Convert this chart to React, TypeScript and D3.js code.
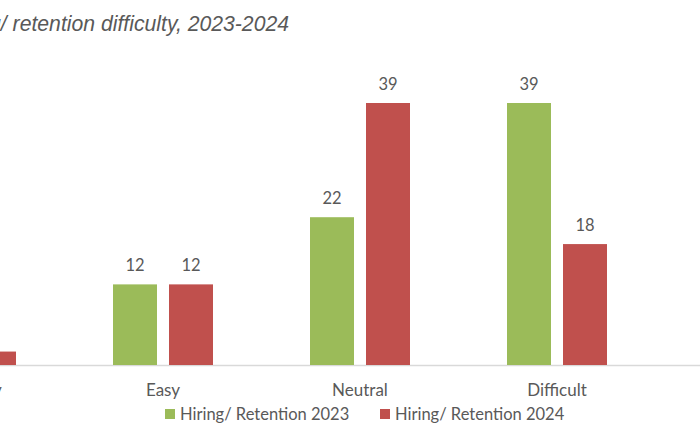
import React from "react";
import * as d3 from "d3";

const categories = ["Very easy", "Easy", "Neutral", "Difficult", "Very difficult"];
const seriesNames = ["Hiring/ Retention 2023", "Hiring/ Retention 2024"];
const values2023 = [5, 12, 22, 39, 22];
const values2024 = [2, 12, 39, 18, 29];
const colors = ["#9BBB59", "#C0504D"];
const title = "Hiring/ retention difficulty, 2023-2024";

const W = 700;
const H = 441;
const baseY = 365;
const font = "Lato, 'Open Sans', sans-serif";

export default function App() {
  const step = 197;
  const firstCenter = -34;
  const x0 = d3
    .scaleBand<string>()
    .domain(categories)
    .range([firstCenter - step / 2, firstCenter - step / 2 + step * categories.length])
    .paddingInner(0)
    .paddingOuter(0);
  const x1 = d3
    .scaleBand<string>()
    .domain(seriesNames)
    .range([-50, 50])
    .paddingInner(0.2143);
  const y = d3.scaleLinear().domain([0, 39]).range([baseY, 103]);
  const series = [values2023, values2024];

  return (
    <svg
      width={W}
      height={H}
      style={{ position: "absolute", left: 0, top: 0, background: "#fff" }}
    >
      <text
        x={289}
        y={31}
        textAnchor="end"
        fontFamily="Arial, 'Liberation Sans', sans-serif"
        fontStyle="italic"
        fontSize={21.2}
        fill="#595959"
      >
        {title}
      </text>
      <line x1={0} x2={W} y1={baseY + 0.5} y2={baseY + 0.5} stroke="#D9D9D9" strokeWidth={1.5} />
      {categories.map((c, ci) => {
        const cx = (x0(c) as number) + x0.bandwidth() / 2;
        return (
          <g key={c}>
            {seriesNames.map((s, si) => {
              const v = series[si][ci];
              const bx = cx + (x1(s) as number);
              return (
                <g key={s}>
                  <rect
                    x={bx}
                    y={y(v)}
                    width={x1.bandwidth()}
                    height={baseY - y(v)}
                    fill={colors[si]}
                  />
                  <text
                    x={bx + x1.bandwidth() / 2}
                    y={y(v) - 13}
                    textAnchor="middle"
                    fontFamily={font}
                    fontSize={16.5}
                    fill="#595959"
                  >
                    {v}
                  </text>
                </g>
              );
            })}
            <text
              x={cx}
              y={396}
              textAnchor="middle"
              fontFamily={font}
              fontSize={17}
              fill="#595959"
            >
              {c}
            </text>
          </g>
        );
      })}
      {seriesNames.map((s, si) => {
        const lx = si === 0 ? 165 : 380;
        return (
          <g key={s}>
            <rect x={lx} y={409} width={10} height={10} fill={colors[si]} />
            <text x={lx + 15} y={420} fontFamily={font} fontSize={16.5} fill="#595959">
              {s}
            </text>
          </g>
        );
      })}
    </svg>
  );
}
